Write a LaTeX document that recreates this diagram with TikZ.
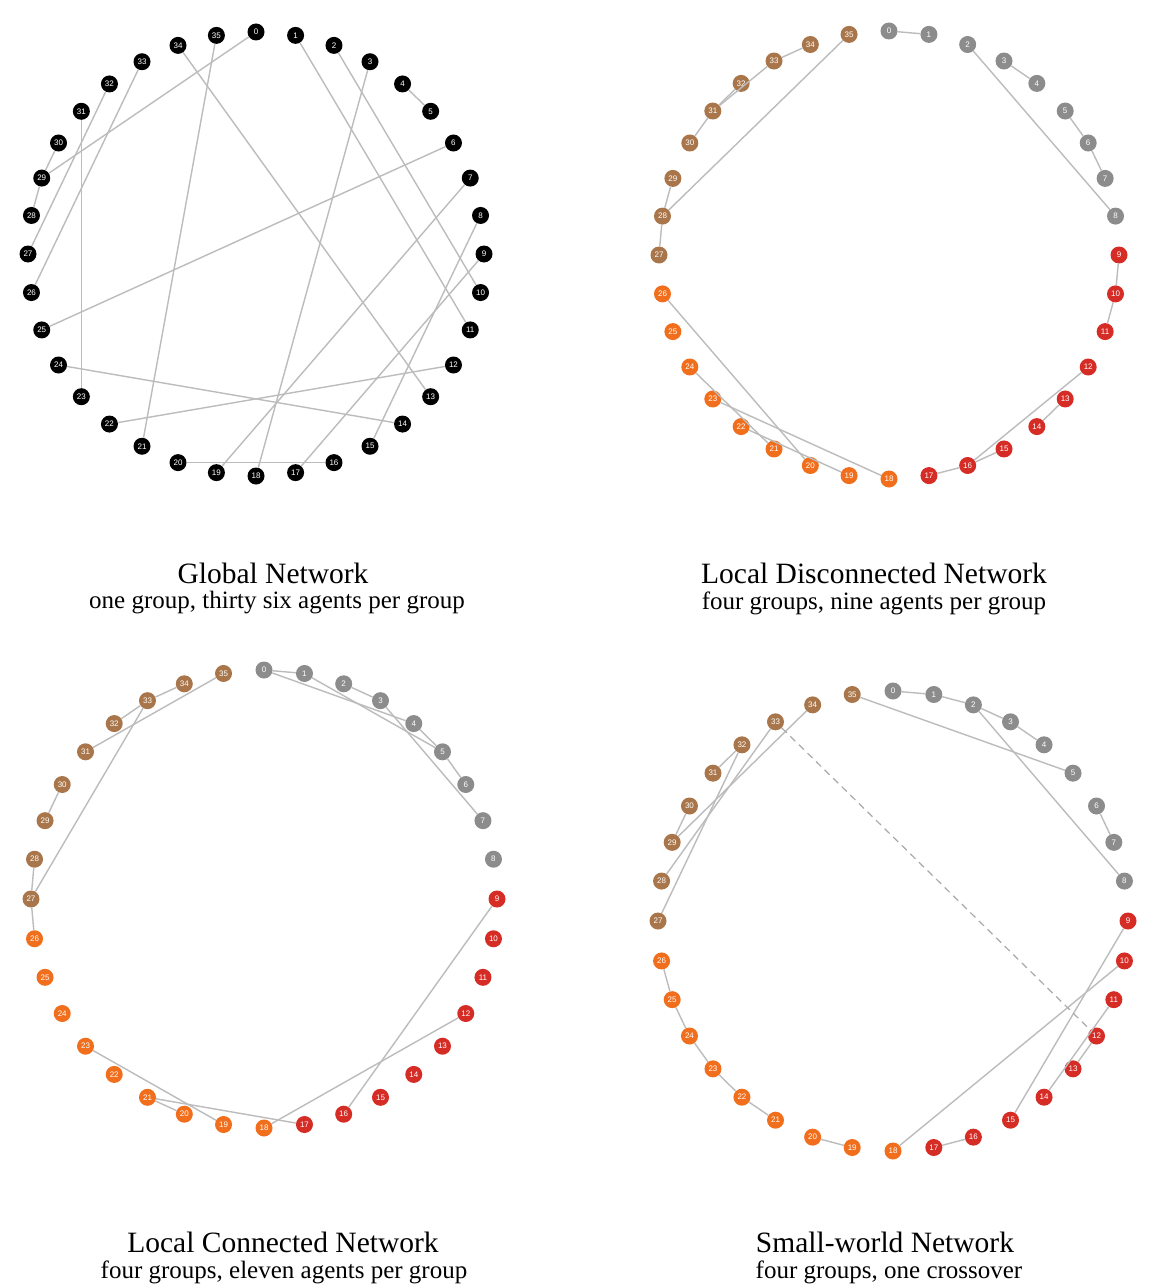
\documentclass[tikz,border=0pt]{standalone}
\usepackage{fontspec}
\setmainfont{Liberation Serif}
\newfontfamily\lblfont{Liberation Sans}
\definecolor{cgray}{RGB}{140,140,140}
\definecolor{cred}{RGB}{214,44,38}
\definecolor{corange}{RGB}{240,110,28}
\definecolor{cbrown}{RGB}{168,118,74}
\definecolor{cedge}{RGB}{188,188,188}
\tikzset{
  agent/.style={circle,inner sep=0pt,minimum size=17pt,text=white,font=\lblfont\fontsize{8}{8}\selectfont},
  link/.style={draw=cedge,line width=1.4pt},
  crosslink/.style={draw=cedge!90!black,line width=1.2pt,dash pattern=on 7pt off 5pt},
  ttl/.style={font=\fontsize{29.5}{31}\selectfont},
  sub/.style={font=\fontsize{25}{27}\selectfont},
}
\begin{document}
\begin{tikzpicture}[x=1pt,y=-1pt]
\useasboundingbox (0,0) rectangle (1168,1287);
\fill[white] (0,0) rectangle (1168,1287);
% Panel 1
\foreach \i in {0,...,35}{
  \node[agent,fill=black] (a\i) at ({256+228*cos(90-10*\i)},{254-222*sin(90-10*\i)}) {\i};
}
% Panels 2-4
\foreach \p/\cx/\cy/\rx/\ry in {b/889/255/230/224, c/264/899/233/229, d/893/921/235/230}{
  \foreach \i in {0,...,35}{
    \ifnum\i<9 \def\col{cgray}\else\ifnum\i<18 \def\col{cred}\else\ifnum\i<27 \def\col{corange}\else\def\col{cbrown}\fi\fi\fi
    \node[agent,fill=\col] (\p\i) at ({\cx+\rx*cos(90-10*\i)},{\cy-\ry*sin(90-10*\i)}) {\i};
  }
}
% Panel 1 edges
\foreach \u/\v in {0/29,1/11,2/10,3/18,4/5,6/25,7/19,8/15,9/17,12/22,14/24,16/20,34/13,35/21,33/26,32/27,31/23,30/29,29/28}
  \draw[link] (a\u) -- (a\v);
% Panel 2 edges
\foreach \u/\v in {0/1,2/8,3/4,5/6,6/7,9/10,10/11,12/16,13/14,15/16,16/17,18/23,19/22,20/26,21/24,27/28,28/29,28/35,30/31,31/32,31/33,33/34}
  \draw[link] (b\u) -- (b\v);
% Panel 3 edges
\foreach \u/\v in {0/1,0/4,1/5,2/3,3/7,4/5,5/6,9/16,12/18,23/19,21/20,21/17,26/27,27/28,27/33,29/30,31/35,32/33,33/34}
  \draw[link] (c\u) -- (c\v);
% Panel 4 edges
\foreach \u/\v in {0/1,1/2,2/3,3/4,2/8,6/7,35/5,9/15,10/18,11/14,12/13,16/17,19/20,21/22,22/23,23/24,24/25,25/26,32/27,33/28,34/29,29/30,31/32}
  \draw[link] (d\u) -- (d\v);
\draw[crosslink] (d33) -- (d12);
% Titles
\node[ttl] (t1) at (273,573) {Global Network};
\node[sub] (s1) at (277,603) {one group, thirty six agents per group};
\node[ttl] (t2) at (874,573) {Local Disconnected Network};
\node[sub] (s2) at (874,603) {four groups, nine agents per group};
\node[ttl] (t3) at (283,1242) {Local Connected Network};
\node[sub] (s3) at (284,1272) {four groups, eleven agents per group};
\node[ttl] (t4) at (885,1242) {Small-world Network};
\node[sub] (s4) at (889,1272) {four groups, one crossover};
\end{tikzpicture}
\end{document}
